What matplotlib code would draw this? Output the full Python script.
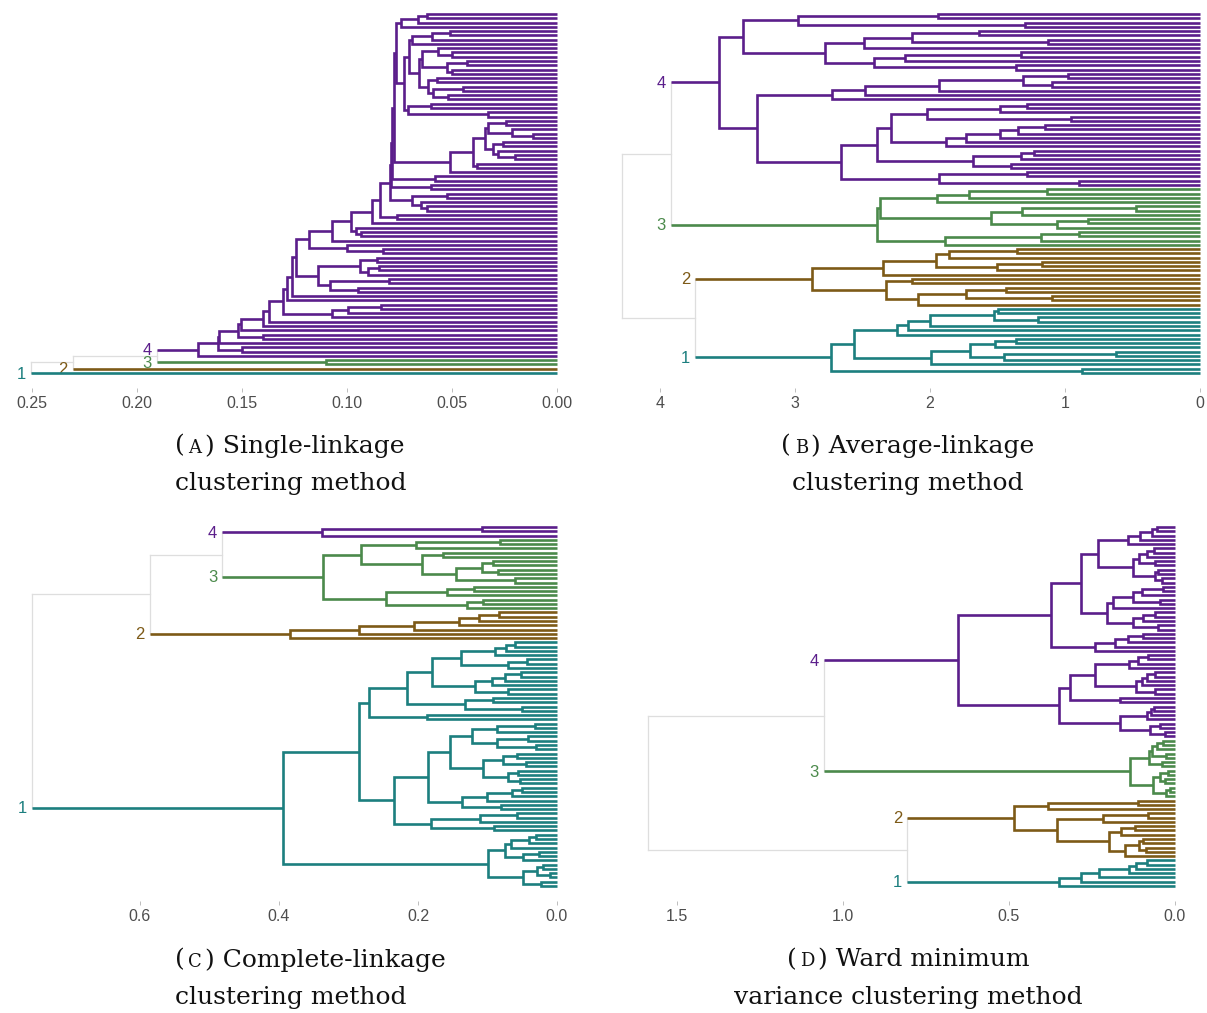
import matplotlib
matplotlib.use("Agg")
import matplotlib.pyplot as plt
from matplotlib.offsetbox import TextArea, HPacker, VPacker, AnnotationBbox

W, H = 1207, 1013

PURPLE, GREEN, BROWN, TEAL = "#5b1e8b", "#4b8a4b", "#7d5a17", "#1c7f7f"
GREY = "#dedede"
COLORS = {4: PURPLE, 3: GREEN, 2: BROWN, 1: TEAL}


def chain(base, steps):
    """Attach (height, subtree) pieces one after another below a growing spine."""
    for h, sub in steps:
        base = [h, base, sub]
    return base


# Trees: [merge height, upper child, lower child]; 0 is a leaf.
# Upper trees join the clusters (ids 4, 3, 2, 1) above the cut.

# ---- (a) single linkage ----
a_top = [0.0745, [0.066, [0.062, 0, 0], 0], 0]
a_b1 = [0.069, [0.0597, [0.051, 0, 0], 0], 0]
a_b2 = [0.0645, [0.0565, 0, [0.050, 0, 0]], [0.0524, [0.043, 0, 0], [0.050, 0, 0]]]
a_b3 = [0.0613, [0.057, 0, 0], [0.059, [0.0446, 0, 0], [0.052, 0, 0]]]
a_b = [0.073, [0.0703, a_b1, [0.0655, a_b2, a_b3]], [0.071, [0.060, 0, 0], [0.0327, 0, 0]]]
a_mid = [0.051, [0.040, [0.0343, [0.0327, [0.0243, 0, 0], [0.0216, 0, [0.0113, 0, 0]]],
                        [0.0303, [0.0256, 0, 0], [0.028, 0, [0.020, 0, 0]]]], [0.038, 0, 0]], 0]
a_tail = [0.1138, [0.0938, [0.0859, 0, 0], [0.090, [0.085, 0, 0], 0]],
          [0.108, [0.080, 0, 0], [0.095, 0, 0]]]
a_spine = [
    (0.0778, a_mid), (0.0787, [0.058, 0, 0]), (0.0790, [0.060, 0, 0]),
    (0.0795, [0.069, [0.0525, 0, 0], [0.065, 0, [0.062, 0, 0]]]),
    (0.0843, [0.076, 0, 0]), (0.0883, 0), (0.098, [0.0955, 0, [0.0935, 0, 0]]),
    (0.107, 0), (0.118, [0.100, 0, [0.0827, 0, 0]]), (0.1245, a_tail),
    (0.1263, 0), (0.1287, 0), (0.1306, [0.107, [0.0995, [0.0838, 0, 0], 0], 0]),
    (0.137, 0), (0.140, 0), (0.1505, 0), (0.1517, [0.140, 0, 0]),
    (0.161, 0), (0.1612, [0.150, 0, 0]), (0.171, 0),
]
A_CLUSTERS = {4: chain([0.0765, a_top, a_b], a_spine), 3: [0.110, 0, 0], 2: 0, 1: 0}
A_UPPER = [0.2505, [0.2305, [0.1905, 4, 3], 2], 1]
A_TICKS = [0.25, 0.20, 0.15, 0.10, 0.05, 0.00]
A_TICKLABELS = ["0.25", "0.20", "0.15", "0.10", "0.05", "0.00"]

# ---- (b) average linkage ----
b_p1 = [2.976, [1.944, 0, 0], [1.296, 0, 0]]
b_p2 = [2.778, [2.487, [2.13, [1.64, 0, 0], [1.124, 0, 0]], 0],
        [2.413, [2.183, [1.323, 0, 0], 0], [1.362, 0, 0]]]
b_p3 = [2.725, [2.479, [1.931, [1.31, [0.979, 0, 0], [1.1, 0, 0]], 0], 0], 0]
b_c = [2.288, [2.024, [1.481, [1.283, 0, 0], 0], [0.952, 0, 0]],
       [1.878, [1.733, [1.481, [1.349, [1.151, 0, 0], 0], 0], 0], 0]]
b_d = [1.68, [1.323, [1.23, 0, 0], 0], [1.4, 0, 0]]
b_f = [1.931, [1.283, 0, 0], [0.9, 0, 0]]
b_p4 = [2.659, [2.394, b_c, b_d], b_f]
b_green = [2.396, [2.374, [1.945, [1.709, [1.136, 0, 0], 0], 0],
                   [1.546, [1.316, [0.476, 0, 0], 0], [1.058, [0.831, 0, 0], 0]]],
           [1.889, [1.177, [0.9, 0, 0], 0], 0]]
b_brown = [2.873, [2.346, [1.958, [1.856, [1.357, 0, 0], 0], [1.504, [1.169, 0, 0], 0]], 0],
           [2.327, [2.133, 0, 0], [2.086, [1.731, [1.44, 0, 0], [1.1, 0, 0]], 0]]]
b_teal = [2.734, [2.562, [2.244, [2.161, [2.0, [1.524, [1.5, 0, 0], [1.2, 0, 0]], 0], 0], 0],
                  [1.994, [1.704, [1.518, [1.363, 0, 0], 0], [1.454, [0.623, 0, 0], 0]], 0]],
          [0.873, 0, 0]]
B_CLUSTERS = {4: [3.563, [3.386, b_p1, b_p2], [3.28, b_p3, b_p4]], 3: b_green, 2: b_brown, 1: b_teal}
B_UPPER = [4.28, [3.92, 4, 3], [3.74, 2, 1]]
B_TICKS = [4, 3, 2, 1, 0]
B_TICKLABELS = ["4", "3", "2", "1", "0"]

# ---- (c) complete linkage ----
c_green = [0.3374, [0.282, [0.2025, [0.0818, 0, 0], 0],
                    [0.1947, [0.1636, 0, 0], [0.1455, [0.1077, [0.0922, 0, 0], [0.0844, 0, 0]], [0.06, 0, 0]]]],
           [0.2456, [0.1585, [0.12, 0, 0], 0], [0.13, [0.1067, 0, 0], 0]]]
c_brown = [0.3842, [0.2856, [0.2063, [0.1404, [0.1119, [0.0834, 0, 0], 0], 0], 0], 0], 0]
c_u1 = [0.2155, [0.1803, [0.1388, [0.0885, [0.0729, [0.061, 0, 0], 0], 0], [0.0703, [0.0434, 0, 0], 0]],
                 [0.118, [0.0937, [0.0755, [0.0522, 0, 0], 0], 0], [0.07, 0, 0]]],
        [0.1326, [0.0922, 0, 0], [0.05, 0, 0]]]
c_s1 = [0.1222, [0.087, [0.0315, 0, 0], 0], [0.087, [0.0418, 0, 0], [0.03, 0, 0]]]
c_s2 = [0.1067, [0.0781, [0.0574, 0, 0], [0.045, 0, 0]], [0.07, [0.0558, 0, 0], [0.0538, 0, 0]]]
c_s3 = [0.1362, [0.1004, [0.0652, [0.05, 0, 0], 0], 0], [0.08, 0, 0]]
c_s4 = [0.1818, [0.1108, [0.0574, 0, 0], 0], [0.09, 0, 0]]
c_u2 = [0.2347, [0.1855, [0.1533, c_s1, c_s2], c_s3], c_s4]
c_low = [0.0989, [0.0745, [0.0662, [0.0403, [0.0304, 0, 0], 0], 0], [0.0496, [0.0253, 0, 0], 0]],
         [0.0486, [0.0289, [0.0196, 0, 0], [0.0107, 0, 0]], [0.0237, 0, 0]]]
c_teal = [0.3945, [0.2845, [0.27, c_u1, [0.187, 0, 0]], c_u2], c_low]
C_CLUSTERS = {4: [0.3385, [0.1078, 0, 0], 0], 3: c_green, 2: c_brown, 1: c_teal}
C_UPPER = [0.756, [0.586, [0.4816, 4, 3], 2], 1]
C_TICKS = [0.6, 0.4, 0.2, 0.0]
C_TICKLABELS = ["0.6", "0.4", "0.2", "0.0"]

# ---- (d) Ward ----
d_p1 = [0.2334, [0.1426, [0.1054, [0.0703, [0.0552, 0, 0], 0], 0], 0],
        [0.1275, [0.1074, [0.0853, [0.0633, 0, 0], 0], [0.0602, 0, 0]], [0.0602, [0.05, 0, 0], [0.04, 0, 0]]]]
d_p2 = [0.2063, [0.1877, [0.1275, [0.10, [0.035, 0, 0], 0], [0.045, 0, 0]], 0],
        [0.1275, [0.095, [0.06, 0, 0], 0], [0.05, 0, 0]]]
d_p3 = [0.2409, [0.1807, [0.1426, [0.095, 0, 0], 0], 0], 0]
d_p4 = [0.3175, [0.2409, [0.1375, [0.11, [0.08, 0, 0], 0], 0],
                 [0.1175, [0.10, [0.085, [0.06, 0, 0], 0], 0], [0.06, 0, 0]]], [0.1657, 0, 0]]
d_p5 = [0.165, [0.085, [0.073, [0.063, 0, 0], 0], 0], [0.075, [0.045, 0, 0], [0.03, 0, 0]]]
d_green = [0.135, [0.078, [0.07, [0.054, [0.035, 0, 0], 0], [0.026, 0, 0]], [0.04, 0, 0]],
           [0.065, [0.046, [0.021, 0, 0], [0.03, 0, 0]], [0.026, [0.015, 0, 0], 0]]]
d_brown = [0.484, [0.382, [0.11, 0, 0], 0],
           [0.356, [0.217, [0.081, 0, 0], 0],
            [0.198, [0.162, [0.12, 0, 0], 0], [0.152, [0.108, [0.095, 0, 0], [0.087, 0, 0]], 0]]]]
d_teal = [0.35, [0.282, [0.228, [0.138, [0.117, [0.084, 0, 0], 0], 0], 0], 0], 0]
D_CLUSTERS = {4: [0.655, [0.372, [0.2825, d_p1, d_p2], d_p3], [0.35, d_p4, d_p5]],
              3: d_green, 2: d_brown, 1: d_teal}
D_UPPER = [1.587, [1.058, 4, 3], [0.807, 2, 1]]
D_TICKS = [1.5, 1.0, 0.5, 0.0]
D_TICKLABELS = ["1.5", "1.0", "0.5", "0.0"]

CAPTIONS = [
    ("A", "Single-linkage", "clustering method"),
    ("B", "Average-linkage", "clustering method"),
    ("C", "Complete-linkage", "clustering method"),
    ("D", "Ward minimum", "variance clustering method"),
]

SANS = "Liberation Sans"
SERIF = "DejaVu Serif"


def walk(node, counter, out):
    """Lay out a cluster tree; returns (leaf position, height)."""
    if node == 0:
        y = counter[0]
        counter[0] += 1
        return y, 0.0
    h, a, b = node
    ya, ha = walk(a, counter, out)
    yb, hb = walk(b, counter, out)
    out.append(([ha, h, h, hb], [ya, ya, yb, yb]))
    return (ya + yb) / 2, h


def draw_panel(ax, upper, clusters, ticks, ticklabels):
    counter = [0]
    grey = []

    def up(node):
        if isinstance(node, int):
            segs = []
            y, h = walk(clusters[node], counter, segs)
            for xs, ys in segs:
                ax.plot(xs, ys, color=COLORS[node], lw=1.9, solid_joinstyle="miter",
                        solid_capstyle="butt", zorder=3)
            return y, h, node
        h, a, b = node
        ya, ha, ca = up(a)
        yb, hb, cb = up(b)
        grey.append(([h, h], [ya, yb]))
        for y_, h_, c_ in ((ya, ha, ca), (yb, hb, cb)):
            if c_ is None:
                grey.append(([h, h_], [y_, y_]))
            else:
                ax.plot([h, h_], [y_, y_], color=COLORS[c_], lw=1.9,
                        solid_capstyle="butt", zorder=3)
                ax.annotate(str(c_), xy=(h, y_), xytext=(-5, -1), textcoords="offset pixels",
                            ha="right", va="center", color=COLORS[c_], fontsize=12,
                            family=SANS)
        return (ya + yb) / 2, h, None

    up(upper)
    for xs, ys in grey:
        ax.plot(xs, ys, color=GREY, lw=0.9, zorder=2)

    ax.set_xticks(ticks)
    ax.set_xticklabels(ticklabels, family=SANS, fontsize=11.5, color="#4d4d4d")
    ax.set_yticks([])
    ax.tick_params(axis="x", length=3, width=0.6, color="#b3b3b3", pad=2.5)
    for s in ax.spines.values():
        s.set_visible(False)


def make_ax(fig, left, right, top, bottom, x0, k, y0, step=4.274):
    ax = fig.add_axes([left / W, 1 - bottom / H, (right - left) / W, (bottom - top) / H])
    ax.set_xlim((x0 - left) / k, (x0 - right) / k)
    ax.set_ylim((bottom - y0) / step, (top - y0) / step)
    ax.patch.set_alpha(0)
    return ax


def caption(fig, letter, title, second, x, y_top, align):
    big = dict(family=SERIF, size=18, color="#111111")
    small = dict(family=SERIF, size=13, color="#111111")
    line1 = HPacker(children=[TextArea("(", textprops=big), TextArea(letter, textprops=small),
                              TextArea(") " + title, textprops=big)],
                    align="baseline", pad=0, sep=2.5)
    line2 = TextArea(second, textprops=big)
    box = VPacker(children=[line1, line2], align=align, pad=0, sep=10.5)
    ab = AnnotationBbox(box, (x, H - y_top), xycoords="figure pixels",
                        box_alignment=(0 if align == "left" else 0.5, 1),
                        frameon=False, pad=0)
    fig.add_artist(ab)


fig = plt.figure(figsize=(W / 100, H / 100), dpi=100)

ax_a = make_ax(fig, 10, 560, 8, 388, 557, 2100, 14)
draw_panel(ax_a, A_UPPER, A_CLUSTERS, A_TICKS, A_TICKLABELS)
ax_b = make_ax(fig, 615, 1203, 8, 388, 1200, 135, 14)
draw_panel(ax_b, B_UPPER, B_CLUSTERS, B_TICKS, B_TICKLABELS)
ax_c = make_ax(fig, 10, 560, 521, 901, 557, 695, 527)
draw_panel(ax_c, C_UPPER, C_CLUSTERS, C_TICKS, C_TICKLABELS)
ax_d = make_ax(fig, 640, 1185, 521, 901, 1175, 332, 527)
draw_panel(ax_d, D_UPPER, D_CLUSTERS, D_TICKS, D_TICKLABELS)

caption(fig, *CAPTIONS[0], 175, 434, "left")
caption(fig, *CAPTIONS[1], 908, 434, "center")
caption(fig, *CAPTIONS[2], 175, 948, "left")
caption(fig, *CAPTIONS[3], 908, 948, "center")

fig.savefig("out.png", dpi=100)
